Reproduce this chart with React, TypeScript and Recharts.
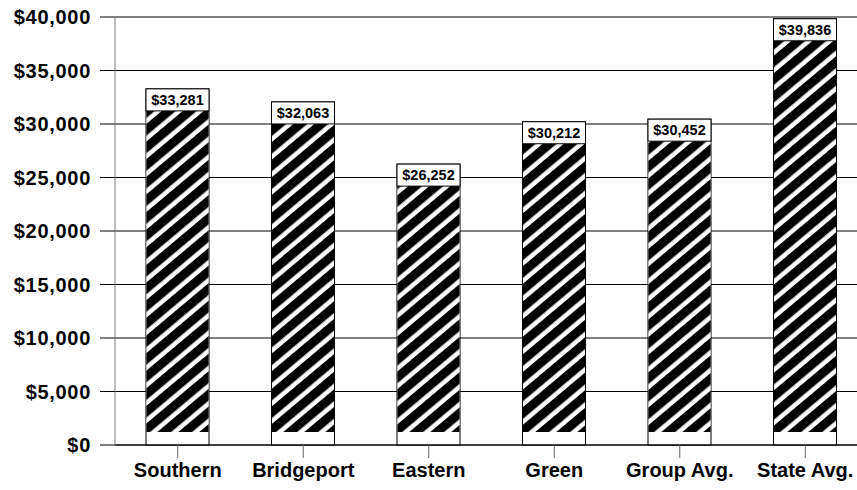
import React from "react";
import { BarChart, Bar, XAxis, YAxis, CartesianGrid, LabelList } from "recharts";

const categories = ["Southern", "Bridgeport", "Eastern", "Green", "Group Avg.", "State Avg."];
const amounts = [33281, 32063, 26252, 30212, 30452, 39836];
const yTicks = [0, 5000, 10000, 15000, 20000, 25000, 30000, 35000, 40000];

const data = categories.map((name, i) => ({ name, amount: amounts[i] }));

const font = '"Liberation Sans", Arial, sans-serif';
const money = (v: number) => "$" + v.toLocaleString("en-US");

const BOX_H = 22;
const BOTTOM_GAP = 13;

const HatchBar = (props: any) => {
  const { x, y, width, height, index } = props;
  const id = "hatch" + index;
  const hy = y + BOX_H;
  const hh = Math.max(0, height - BOX_H - BOTTOM_GAP);
  return (
    <g>
      <defs>
        <pattern
          id={id}
          patternUnits="userSpaceOnUse"
          width={13.5}
          height={13.5}
          patternTransform="rotate(50)"
        >
          <rect x={0} y={0} width={13.5} height={13.5} fill="#fff" />
          <rect x={0} y={0} width={9} height={13.5} fill="#000" />
        </pattern>
      </defs>
      <rect x={x} y={y} width={width} height={height} fill="#fff" stroke="#000" strokeWidth={1} />
      <rect x={x + 0.5} y={hy} width={width - 1} height={hh} fill={`url(#${id})`} />
    </g>
  );
};

const ValueBox = (props: any) => {
  const { x, y, width, value } = props;
  return (
    <g>
      <rect x={x} y={y} width={width} height={BOX_H} fill="#fff" stroke="#000" strokeWidth={1} />
      <text
        x={x + width / 2}
        y={y + 16}
        textAnchor="middle"
        fontFamily={font}
        fontWeight="bold"
        fontSize={14.5}
        fill="#000"
      >
        {money(value)}
      </text>
    </g>
  );
};

export default function App() {
  return (
    <div
      style={{
        position: "fixed",
        left: 0,
        top: 0,
        width: 857,
        height: 490,
        overflow: "hidden",
        background: "#fff",
      }}
    >
      <BarChart
        width={880}
        height={490}
        data={data}
        margin={{ top: 17, right: 12, left: 0, bottom: 0 }}
        barSize={63}
      >
        <CartesianGrid horizontal vertical={false} stroke="#000" strokeWidth={1} />
        <XAxis
          dataKey="name"
          height={45}
          axisLine={{ stroke: "#000" }}
          tickLine={{ stroke: "#666" }}
          tickSize={13}
          tickMargin={5}
          interval={0}
          tick={{ fill: "#000", fontFamily: font, fontWeight: "bold", fontSize: 20 }}
        />
        <YAxis
          width={115}
          domain={[0, 40000]}
          ticks={yTicks}
          interval={0}
          tickFormatter={money}
          axisLine={{ stroke: "#808080" }}
          tickLine={{ stroke: "#000" }}
          tickSize={15}
          tickMargin={9}
          tick={{ fill: "#000", fontFamily: font, fontWeight: "bold", fontSize: 20, letterSpacing: 0.7 }}
        />
        <Bar dataKey="amount" shape={HatchBar} isAnimationActive={false}>
          <LabelList dataKey="amount" content={ValueBox} />
        </Bar>
      </BarChart>
    </div>
  );
}
